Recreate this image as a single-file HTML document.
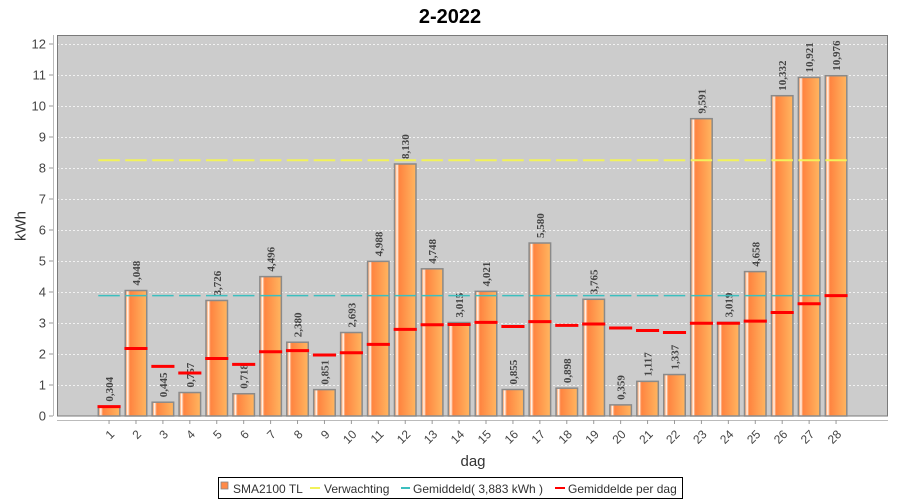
<!DOCTYPE html>
<html><head><meta charset="utf-8"><style>
html,body{margin:0;padding:0;background:#fff;}
svg{display:block;}
text{font-family:"Liberation Sans",sans-serif;}
.yt text{font-size:13px;fill:#444;text-anchor:end;}
.xt text{font-size:12px;fill:#444;text-anchor:end;}
.vl text{font-family:"Liberation Serif",serif;font-weight:bold;font-size:11px;fill:#444;}
.lg{font-size:12px;fill:#333;}
</style></head><body>
<svg width="900" height="500" viewBox="0 0 900 500" xmlns="http://www.w3.org/2000/svg">
<defs>
<linearGradient id="bg" x1="0" y1="0" x2="1" y2="0">
<stop offset="0" stop-color="#ff9450"/>
<stop offset="0.08" stop-color="#ffc9a5"/>
<stop offset="0.12" stop-color="#ffffff"/>
<stop offset="0.16" stop-color="#ffc09a"/>
<stop offset="0.22" stop-color="#ff8440"/>
<stop offset="1" stop-color="#ffb660"/>
</linearGradient>
</defs>
<text x="450" y="23" font-size="20" font-weight="bold" text-anchor="middle" fill="#000">2-2022</text>
<rect x="57" y="35" width="831" height="381" fill="#cccccc"/>
<g stroke="#f2f2f2" stroke-width="1" stroke-dasharray="2,2">
<line x1="57" x2="888" y1="385.5" y2="385.5"/><line x1="57" x2="888" y1="354.5" y2="354.5"/>
<line x1="57" x2="888" y1="323.5" y2="323.5"/><line x1="57" x2="888" y1="292.5" y2="292.5"/>
<line x1="57" x2="888" y1="261.5" y2="261.5"/><line x1="57" x2="888" y1="230.5" y2="230.5"/>
<line x1="57" x2="888" y1="199.5" y2="199.5"/><line x1="57" x2="888" y1="168.5" y2="168.5"/>
<line x1="57" x2="888" y1="137.5" y2="137.5"/><line x1="57" x2="888" y1="106.5" y2="106.5"/>
<line x1="57" x2="888" y1="75.5" y2="75.5"/><line x1="57" x2="888" y1="44.5" y2="44.5"/>
</g>
<rect x="57.5" y="35.5" width="830" height="380.5" fill="none" stroke="#7a7a7a" stroke-width="1"/>
<!-- y axis -->
<line x1="53.5" y1="35" x2="53.5" y2="416" stroke="#bbb"/>
<g stroke="#999">
<line x1="49" x2="53" y1="416" y2="416"/><line x1="49" x2="53" y1="385" y2="385"/><line x1="49" x2="53" y1="354" y2="354"/>
<line x1="49" x2="53" y1="323" y2="323"/><line x1="49" x2="53" y1="292" y2="292"/><line x1="49" x2="53" y1="261" y2="261"/>
<line x1="49" x2="53" y1="230" y2="230"/><line x1="49" x2="53" y1="199" y2="199"/><line x1="49" x2="53" y1="168" y2="168"/>
<line x1="49" x2="53" y1="137" y2="137"/><line x1="49" x2="53" y1="106" y2="106"/><line x1="49" x2="53" y1="75" y2="75"/>
<line x1="49" x2="53" y1="44" y2="44"/>
</g>
<g class="yt">
<text x="46" y="420.5">0</text><text x="46" y="389.5">1</text><text x="46" y="358.5">2</text>
<text x="46" y="327.5">3</text><text x="46" y="296.5">4</text><text x="46" y="265.5">5</text>
<text x="46" y="234.5">6</text><text x="46" y="203.5">7</text><text x="46" y="172.5">8</text>
<text x="46" y="141.5">9</text><text x="46" y="110.5">10</text><text x="46" y="79.5">11</text>
<text x="46" y="48.5">12</text>
</g>
<text transform="translate(25.5,226) rotate(-90)" font-size="15" text-anchor="middle" fill="#333">kWh</text>
<!-- bars -->
<g fill="url(#bg)" stroke="#8a8a8a" stroke-width="1.5">
<rect x="98.3" y="406.58" width="21.5" height="9.42"/>
<rect x="125.23" y="290.51" width="21.5" height="125.49"/>
<rect x="152.15" y="402.2" width="21.5" height="13.8"/>
<rect x="179.08" y="392.53" width="21.5" height="23.47"/>
<rect x="206.0" y="300.49" width="21.5" height="115.51"/>
<rect x="232.93" y="393.74" width="21.5" height="22.26"/>
<rect x="259.86" y="276.62" width="21.5" height="139.38"/>
<rect x="286.78" y="342.22" width="21.5" height="73.78"/>
<rect x="313.71" y="389.62" width="21.5" height="26.38"/>
<rect x="340.63" y="332.52" width="21.5" height="83.48"/>
<rect x="367.56" y="261.37" width="21.5" height="154.63"/>
<rect x="394.49" y="163.97" width="21.5" height="252.03"/>
<rect x="421.41" y="268.81" width="21.5" height="147.19"/>
<rect x="448.34" y="322.54" width="21.5" height="93.46"/>
<rect x="475.26" y="291.35" width="21.5" height="124.65"/>
<rect x="502.19" y="389.5" width="21.5" height="26.5"/>
<rect x="529.12" y="243.02" width="21.5" height="172.98"/>
<rect x="556.04" y="388.16" width="21.5" height="27.84"/>
<rect x="582.97" y="299.29" width="21.5" height="116.71"/>
<rect x="609.89" y="404.87" width="21.5" height="11.13"/>
<rect x="636.82" y="381.37" width="21.5" height="34.63"/>
<rect x="663.75" y="374.55" width="21.5" height="41.45"/>
<rect x="690.67" y="118.68" width="21.5" height="297.32"/>
<rect x="717.6" y="322.41" width="21.5" height="93.59"/>
<rect x="744.52" y="271.6" width="21.5" height="144.4"/>
<rect x="771.45" y="95.71" width="21.5" height="320.29"/>
<rect x="798.38" y="77.45" width="21.5" height="338.55"/>
<rect x="825.3" y="75.74" width="21.5" height="340.26"/>
</g>
<!-- value labels -->
<g class="vl">
<text transform="translate(113.05,401.58) rotate(-90)">0,304</text>
<text transform="translate(139.98,285.51) rotate(-90)">4,048</text>
<text transform="translate(166.9,397.2) rotate(-90)">0,445</text>
<text transform="translate(193.83,387.53) rotate(-90)">0,757</text>
<text transform="translate(220.75,295.49) rotate(-90)">3,726</text>
<text transform="translate(247.68,388.74) rotate(-90)">0,718</text>
<text transform="translate(274.61,271.62) rotate(-90)">4,496</text>
<text transform="translate(301.53,337.22) rotate(-90)">2,380</text>
<text transform="translate(328.46,384.62) rotate(-90)">0,851</text>
<text transform="translate(355.38,327.52) rotate(-90)">2,693</text>
<text transform="translate(382.31,256.37) rotate(-90)">4,988</text>
<text transform="translate(409.24,158.97) rotate(-90)">8,130</text>
<text transform="translate(436.16,263.81) rotate(-90)">4,748</text>
<text transform="translate(463.09,317.54) rotate(-90)">3,015</text>
<text transform="translate(490.01,286.35) rotate(-90)">4,021</text>
<text transform="translate(516.94,384.5) rotate(-90)">0,855</text>
<text transform="translate(543.87,238.02) rotate(-90)">5,580</text>
<text transform="translate(570.79,383.16) rotate(-90)">0,898</text>
<text transform="translate(597.72,294.29) rotate(-90)">3,765</text>
<text transform="translate(624.64,399.87) rotate(-90)">0,359</text>
<text transform="translate(651.57,376.37) rotate(-90)">1,117</text>
<text transform="translate(678.5,369.55) rotate(-90)">1,337</text>
<text transform="translate(705.42,113.68) rotate(-90)">9,591</text>
<text transform="translate(732.35,317.41) rotate(-90)">3,019</text>
<text transform="translate(759.27,266.6) rotate(-90)">4,658</text>
<text transform="translate(786.2,90.71) rotate(-90)">10,332</text>
<text transform="translate(813.13,72.45) rotate(-90)">10,921</text>
<text transform="translate(840.05,70.74) rotate(-90)">10,976</text>
</g>
<!-- expectation (yellow) & average (cyan) -->
<g stroke="#f2f25a" stroke-width="2">
<line x1="98.3" x2="119.8" y1="160.3" y2="160.3"/><line x1="125.23" x2="146.73" y1="160.3" y2="160.3"/>
<line x1="152.15" x2="173.65" y1="160.3" y2="160.3"/><line x1="179.08" x2="200.58" y1="160.3" y2="160.3"/>
<line x1="206.0" x2="227.5" y1="160.3" y2="160.3"/><line x1="232.93" x2="254.43" y1="160.3" y2="160.3"/>
<line x1="259.86" x2="281.36" y1="160.3" y2="160.3"/><line x1="286.78" x2="308.28" y1="160.3" y2="160.3"/>
<line x1="313.71" x2="335.21" y1="160.3" y2="160.3"/><line x1="340.63" x2="362.13" y1="160.3" y2="160.3"/>
<line x1="367.56" x2="389.06" y1="160.3" y2="160.3"/><line x1="394.49" x2="415.99" y1="160.3" y2="160.3"/>
<line x1="421.41" x2="442.91" y1="160.3" y2="160.3"/><line x1="448.34" x2="469.84" y1="160.3" y2="160.3"/>
<line x1="475.26" x2="496.76" y1="160.3" y2="160.3"/><line x1="502.19" x2="523.69" y1="160.3" y2="160.3"/>
<line x1="529.12" x2="550.62" y1="160.3" y2="160.3"/><line x1="556.04" x2="577.54" y1="160.3" y2="160.3"/>
<line x1="582.97" x2="604.47" y1="160.3" y2="160.3"/><line x1="609.89" x2="631.39" y1="160.3" y2="160.3"/>
<line x1="636.82" x2="658.32" y1="160.3" y2="160.3"/><line x1="663.75" x2="685.25" y1="160.3" y2="160.3"/>
<line x1="690.67" x2="712.17" y1="160.3" y2="160.3"/><line x1="717.6" x2="739.1" y1="160.3" y2="160.3"/>
<line x1="744.52" x2="766.02" y1="160.3" y2="160.3"/><line x1="771.45" x2="792.95" y1="160.3" y2="160.3"/>
<line x1="798.38" x2="819.88" y1="160.3" y2="160.3"/><line x1="825.3" x2="846.8" y1="160.3" y2="160.3"/>
</g>
<g stroke="#3cbfbf" stroke-width="1.5">
<line x1="98.3" x2="119.8" y1="295.6" y2="295.6"/><line x1="125.23" x2="146.73" y1="295.6" y2="295.6"/>
<line x1="152.15" x2="173.65" y1="295.6" y2="295.6"/><line x1="179.08" x2="200.58" y1="295.6" y2="295.6"/>
<line x1="206.0" x2="227.5" y1="295.6" y2="295.6"/><line x1="232.93" x2="254.43" y1="295.6" y2="295.6"/>
<line x1="259.86" x2="281.36" y1="295.6" y2="295.6"/><line x1="286.78" x2="308.28" y1="295.6" y2="295.6"/>
<line x1="313.71" x2="335.21" y1="295.6" y2="295.6"/><line x1="340.63" x2="362.13" y1="295.6" y2="295.6"/>
<line x1="367.56" x2="389.06" y1="295.6" y2="295.6"/><line x1="394.49" x2="415.99" y1="295.6" y2="295.6"/>
<line x1="421.41" x2="442.91" y1="295.6" y2="295.6"/><line x1="448.34" x2="469.84" y1="295.6" y2="295.6"/>
<line x1="475.26" x2="496.76" y1="295.6" y2="295.6"/><line x1="502.19" x2="523.69" y1="295.6" y2="295.6"/>
<line x1="529.12" x2="550.62" y1="295.6" y2="295.6"/><line x1="556.04" x2="577.54" y1="295.6" y2="295.6"/>
<line x1="582.97" x2="604.47" y1="295.6" y2="295.6"/><line x1="609.89" x2="631.39" y1="295.6" y2="295.6"/>
<line x1="636.82" x2="658.32" y1="295.6" y2="295.6"/><line x1="663.75" x2="685.25" y1="295.6" y2="295.6"/>
<line x1="690.67" x2="712.17" y1="295.6" y2="295.6"/><line x1="717.6" x2="739.1" y1="295.6" y2="295.6"/>
<line x1="744.52" x2="766.02" y1="295.6" y2="295.6"/><line x1="771.45" x2="792.95" y1="295.6" y2="295.6"/>
<line x1="798.38" x2="819.88" y1="295.6" y2="295.6"/><line x1="825.3" x2="846.8" y1="295.6" y2="295.6"/>
</g>
<!-- average per day (red) -->
<g stroke="#ff0000" stroke-width="3">
<line x1="97.5" x2="120.6" y1="406.58" y2="406.58"/>
<line x1="124.43" x2="147.53" y1="348.54" y2="348.54"/>
<line x1="151.35" x2="174.45" y1="366.43" y2="366.43"/>
<line x1="178.28" x2="201.38" y1="372.96" y2="372.96"/>
<line x1="205.2" x2="228.3" y1="358.46" y2="358.46"/>
<line x1="232.13" x2="255.23" y1="364.35" y2="364.35"/>
<line x1="259.06" x2="282.16" y1="351.81" y2="351.81"/>
<line x1="285.98" x2="309.08" y1="350.61" y2="350.61"/>
<line x1="312.91" x2="336.01" y1="354.95" y2="354.95"/>
<line x1="339.83" x2="362.93" y1="352.7" y2="352.7"/>
<line x1="366.76" x2="389.86" y1="344.4" y2="344.4"/>
<line x1="393.69" x2="416.79" y1="329.37" y2="329.37"/>
<line x1="420.61" x2="443.71" y1="324.71" y2="324.71"/>
<line x1="447.54" x2="470.64" y1="324.55" y2="324.55"/>
<line x1="474.46" x2="497.56" y1="322.34" y2="322.34"/>
<line x1="501.39" x2="524.49" y1="326.54" y2="326.54"/>
<line x1="528.32" x2="551.42" y1="321.62" y2="321.62"/>
<line x1="555.24" x2="578.34" y1="325.32" y2="325.32"/>
<line x1="582.17" x2="605.27" y1="323.95" y2="323.95"/>
<line x1="609.09" x2="632.19" y1="328.0" y2="328.0"/>
<line x1="636.02" x2="659.12" y1="330.54" y2="330.54"/>
<line x1="662.95" x2="686.05" y1="332.54" y2="332.54"/>
<line x1="689.87" x2="712.97" y1="323.24" y2="323.24"/>
<line x1="716.8" x2="739.9" y1="323.2" y2="323.2"/>
<line x1="743.72" x2="766.82" y1="321.14" y2="321.14"/>
<line x1="770.65" x2="793.75" y1="312.47" y2="312.47"/>
<line x1="797.58" x2="820.68" y1="303.77" y2="303.77"/>
<line x1="824.5" x2="847.6" y1="295.62" y2="295.62"/>
</g>
<!-- x axis -->
<line x1="57" y1="420.5" x2="888" y2="420.5" stroke="#bbb"/>
<g stroke="#999">
<line x1="109.05" x2="109.05" y1="420" y2="424"/><line x1="135.98" x2="135.98" y1="420" y2="424"/>
<line x1="162.9" x2="162.9" y1="420" y2="424"/><line x1="189.83" x2="189.83" y1="420" y2="424"/>
<line x1="216.75" x2="216.75" y1="420" y2="424"/><line x1="243.68" x2="243.68" y1="420" y2="424"/>
<line x1="270.61" x2="270.61" y1="420" y2="424"/><line x1="297.53" x2="297.53" y1="420" y2="424"/>
<line x1="324.46" x2="324.46" y1="420" y2="424"/><line x1="351.38" x2="351.38" y1="420" y2="424"/>
<line x1="378.31" x2="378.31" y1="420" y2="424"/><line x1="405.24" x2="405.24" y1="420" y2="424"/>
<line x1="432.16" x2="432.16" y1="420" y2="424"/><line x1="459.09" x2="459.09" y1="420" y2="424"/>
<line x1="486.01" x2="486.01" y1="420" y2="424"/><line x1="512.94" x2="512.94" y1="420" y2="424"/>
<line x1="539.87" x2="539.87" y1="420" y2="424"/><line x1="566.79" x2="566.79" y1="420" y2="424"/>
<line x1="593.72" x2="593.72" y1="420" y2="424"/><line x1="620.64" x2="620.64" y1="420" y2="424"/>
<line x1="647.57" x2="647.57" y1="420" y2="424"/><line x1="674.5" x2="674.5" y1="420" y2="424"/>
<line x1="701.42" x2="701.42" y1="420" y2="424"/><line x1="728.35" x2="728.35" y1="420" y2="424"/>
<line x1="755.27" x2="755.27" y1="420" y2="424"/><line x1="782.2" x2="782.2" y1="420" y2="424"/>
<line x1="809.13" x2="809.13" y1="420" y2="424"/><line x1="836.05" x2="836.05" y1="420" y2="424"/>
</g>
<g class="xt">
<text transform="translate(115.05,435) rotate(-45)">1</text>
<text transform="translate(141.98,435) rotate(-45)">2</text>
<text transform="translate(168.9,435) rotate(-45)">3</text>
<text transform="translate(195.83,435) rotate(-45)">4</text>
<text transform="translate(222.75,435) rotate(-45)">5</text>
<text transform="translate(249.68,435) rotate(-45)">6</text>
<text transform="translate(276.61,435) rotate(-45)">7</text>
<text transform="translate(303.53,435) rotate(-45)">8</text>
<text transform="translate(330.46,435) rotate(-45)">9</text>
<text transform="translate(357.38,435) rotate(-45)">10</text>
<text transform="translate(384.31,435) rotate(-45)">11</text>
<text transform="translate(411.24,435) rotate(-45)">12</text>
<text transform="translate(438.16,435) rotate(-45)">13</text>
<text transform="translate(465.09,435) rotate(-45)">14</text>
<text transform="translate(492.01,435) rotate(-45)">15</text>
<text transform="translate(518.94,435) rotate(-45)">16</text>
<text transform="translate(545.87,435) rotate(-45)">17</text>
<text transform="translate(572.79,435) rotate(-45)">18</text>
<text transform="translate(599.72,435) rotate(-45)">19</text>
<text transform="translate(626.64,435) rotate(-45)">20</text>
<text transform="translate(653.57,435) rotate(-45)">21</text>
<text transform="translate(680.5,435) rotate(-45)">22</text>
<text transform="translate(707.42,435) rotate(-45)">23</text>
<text transform="translate(734.35,435) rotate(-45)">24</text>
<text transform="translate(761.27,435) rotate(-45)">25</text>
<text transform="translate(788.2,435) rotate(-45)">26</text>
<text transform="translate(815.13,435) rotate(-45)">27</text>
<text transform="translate(842.05,435) rotate(-45)">28</text>
</g>
<text x="473" y="466" font-size="15" text-anchor="middle" fill="#333">dag</text>
<!-- legend -->
<rect x="218.5" y="477.5" width="464" height="21" fill="#fff" stroke="#000" stroke-width="1"/>
<rect x="221" y="482" width="7" height="7" fill="#ff8a48" stroke="#888" stroke-width="0.8"/>
<text class="lg" x="233" y="493">SMA2100 TL</text>
<line x1="310" x2="320" y1="488" y2="488" stroke="#f2f25a" stroke-width="2"/>
<text class="lg" x="324" y="493">Verwachting</text>
<line x1="401" x2="410" y1="488" y2="488" stroke="#3cbfbf" stroke-width="2"/>
<text class="lg" x="413" y="493">Gemiddeld( 3,883 kWh )</text>
<line x1="555" x2="565" y1="488" y2="488" stroke="#ff0000" stroke-width="2"/>
<text class="lg" x="568" y="493">Gemiddelde per dag</text>
</svg>
</body></html>
